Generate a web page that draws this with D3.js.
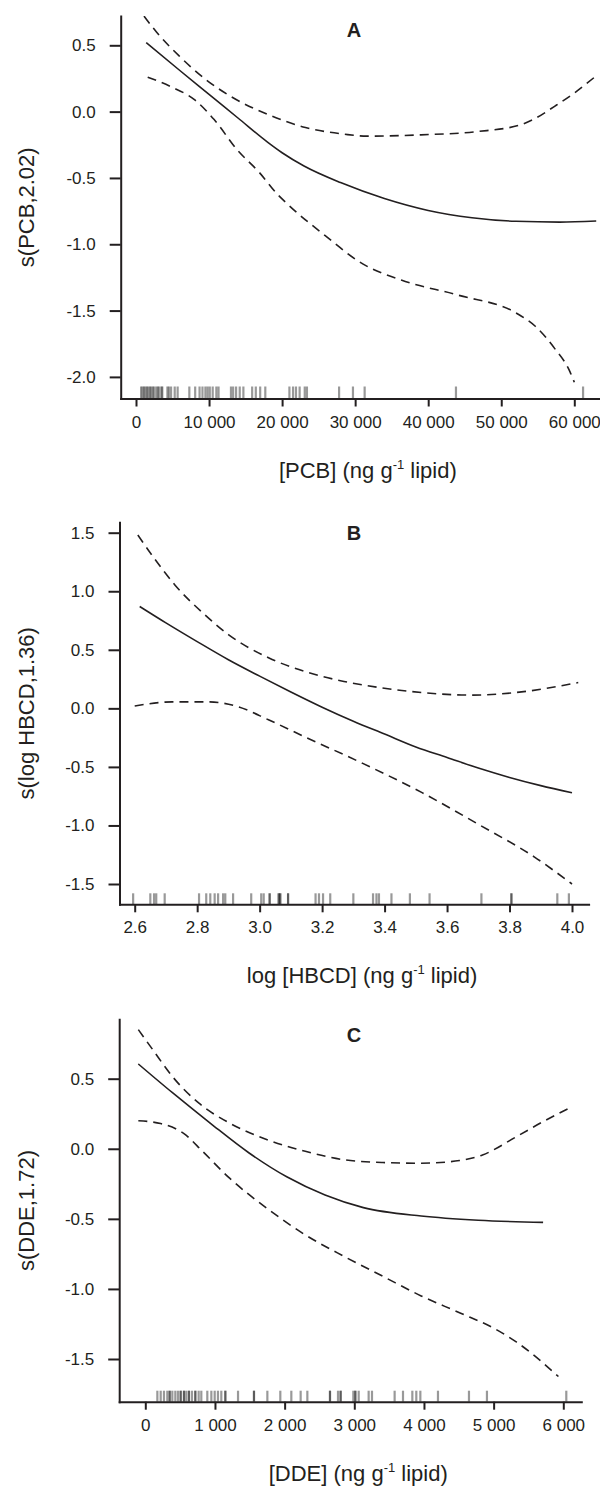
<!DOCTYPE html>
<html>
<head>
<meta charset="utf-8">
<script src="https://cdn.jsdelivr.net/npm/d3@7"></script>
<style>
  body { margin: 0; background: #fff; }
  svg { display: block; font-family: "Liberation Sans", Arial, sans-serif; }
  .axis path, .axis line { stroke: #231f20; stroke-width: 2; }
  .axis text { font-size: 17px; fill: #231f20; }
</style>
</head>
<body>
<svg width="600" height="1488"></svg>
<script>
// ---- panel A : PCB ----
const pcbFitX = [1400, 6000, 10000, 14000, 18000, 20000, 23000, 28000, 34000, 40000, 46000, 52000, 58000, 63000]
const pcbFit = [0.52, 0.31, 0.13, -0.05, -0.23, -0.31, -0.41, -0.535, -0.655, -0.745, -0.80, -0.827, -0.833, -0.825]
const pcbUpX = [1100, 2800, 5900, 9600, 12800, 18000, 23200, 28500, 31600, 39000, 46800, 52600, 54700, 57300, 60000, 63000]
const pcbUp = [0.72, 0.60, 0.42, 0.24, 0.12, -0.02, -0.12, -0.17, -0.185, -0.175, -0.15, -0.10, -0.05, 0.04, 0.14, 0.27]
const pcbLoX = [1600, 4900, 8000, 10700, 13800, 16900, 19300, 20600, 25900, 31100, 36300, 44200, 52100, 54700, 57300, 59400, 60000]
const pcbLo = [0.26, 0.185, 0.09, -0.06, -0.285, -0.46, -0.62, -0.69, -0.935, -1.15, -1.27, -1.385, -1.52, -1.62, -1.785, -1.96, -2.04]
const pcbRug = [700, 900, 1100, 1300, 1500, 1700, 1900, 2100, 2300, 2500, 2800, 3000, 3200, 3500, 3600,
  4300, 4500, 4800, 5300, 5700, 7300, 8100, 8700, 9100, 9500, 9800, 10100, 10500, 11000, 11300,
  13000, 13300, 13700, 14200, 14700, 15900, 16400, 17000, 17700, 21000, 21500, 21900, 22400, 23100,
  23400, 27800, 29700, 31300, 43800, 61200]
const pcbXTicks = [0, 10000, 20000, 30000, 40000, 50000, 60000]
const pcbYTicks = [-2.0, -1.5, -1.0, -0.5, 0.0, 0.5]

// ---- panel B : HBCD ----
const hbcdFitX = [2.616, 2.7, 2.8, 2.9, 3.0, 3.1, 3.2, 3.3, 3.4, 3.5, 3.6, 3.7, 3.8, 3.9, 4.0]
const hbcdFit = [0.87, 0.73, 0.57, 0.415, 0.275, 0.14, 0.01, -0.11, -0.22, -0.33, -0.42, -0.51, -0.59, -0.66, -0.72]
const hbcdUpX = [2.61, 2.66, 2.73, 2.82, 2.90, 3.03, 3.15, 3.27, 3.39, 3.52, 3.68, 3.82, 4.02]
const hbcdUp = [1.48, 1.29, 1.05, 0.81, 0.63, 0.43, 0.31, 0.23, 0.175, 0.135, 0.113, 0.135, 0.22]
const hbcdLoX = [2.6, 2.72, 2.84, 2.93, 3.03, 3.15, 3.33, 3.52, 3.70, 3.88, 4.0]
const hbcdLo = [0.02, 0.055, 0.055, 0.015, -0.10, -0.25, -0.47, -0.72, -0.99, -1.27, -1.50]
const hbcdRug = [2.595, 2.650, 2.662, 2.669, 2.696, 2.806, 2.829, 2.842, 2.856, 2.867, 2.883, 2.890,
  2.915, 2.973, 3.005, 3.013, 3.032, 3.032, 3.061, 3.061, 3.066, 3.066, 3.091, 3.091, 3.179, 3.190,
  3.203, 3.226, 3.300, 3.363, 3.374, 3.382, 3.422, 3.481, 3.544, 3.710, 3.806, 3.806, 3.953, 3.990]
const hbcdXTicks = [2.6, 2.8, 3.0, 3.2, 3.4, 3.6, 3.8, 4.0]
const hbcdYTicks = [-1.5, -1.0, -0.5, 0.0, 0.5, 1.0, 1.5]

// ---- panel C : DDE ----
const ddeFitX = [-100, 390, 940, 1490, 2030, 2580, 3130, 3960, 4780, 5710]
const ddeFit = [0.605, 0.40, 0.18, -0.03, -0.20, -0.33, -0.42, -0.48, -0.51, -0.525]
const ddeUpX = [-100, 110, 390, 770, 1210, 1760, 2310, 2860, 3410, 3960, 4510, 4840, 5330, 5710, 6100]
const ddeUp = [0.85, 0.705, 0.515, 0.325, 0.183, 0.063, -0.02, -0.079, -0.098, -0.103, -0.084, -0.044, 0.087, 0.194, 0.294]
const ddeLoX = [-100, 220, 550, 825, 1210, 1760, 2250, 2860, 3410, 3960, 4510, 5000, 5330, 5930]
const ddeLo = [0.20, 0.18, 0.11, -0.02, -0.21, -0.43, -0.60, -0.77, -0.91, -1.05, -1.17, -1.28, -1.38, -1.625]
const ddeRug = [173, 221, 268, 316, 350, 350, 388, 431, 469, 508, 508, 555, 555, 589, 627, 627, 670,
  718, 718, 766, 804, 890, 948, 996, 1043, 1091, 1149, 1149, 1331, 1560, 1560, 1752, 1938, 2096,
  2230, 2326, 2651, 2651, 2766, 2804, 2804, 2986, 3015, 3015, 3063, 3206, 3254, 3579, 3699, 3833,
  3890, 3948, 4201, 4646, 4904, 6043]
const ddeXTicks = [0, 1000, 2000, 3000, 4000, 5000, 6000]
const ddeYTicks = [-1.5, -1.0, -0.5, 0.0, 0.5]

const locale = d3.formatLocale({ decimal: '.', thousands: ' ', grouping: [3], currency: ['', ''], minus: '-' })
const fmtInt = locale.format(',d')
const fmt1 = locale.format('.1f')

const panels = [
  {
    label: 'A', yTitle: 's(PCB,2.02)', xTitle: ['[PCB] (ng g', '-1', ' lipid)'],
    left: 120.7, right: 599, top: 16, bottom: 398.5,
    xRef: [0, 60000], xRefPx: [136, 574.3], yRef: [-2, 0.5], yRefPx: [376.9, 45.3],
    xTicks: pcbXTicks, yTicks: pcbYTicks, xFmt: fmtInt, rugH: 12, letterY: 37,
    fit: [pcbFitX, pcbFit], up: [pcbUpX, pcbUp], lo: [pcbLoX, pcbLo], rug: pcbRug
  },
  {
    label: 'B', yTitle: 's(log HBCD,1.36)', xTitle: ['log [HBCD] (ng g', '-1', ' lipid)'],
    left: 119.5, right: 588.6, top: 522.3, bottom: 904.3,
    xRef: [2.6, 4.0], xRefPx: [134.7, 572], yRef: [-1.5, 1.5], yRefPx: [884, 532.7],
    xTicks: hbcdXTicks, yTicks: hbcdYTicks, xFmt: fmt1, rugH: 11, letterY: 540,
    fit: [hbcdFitX, hbcdFit], up: [hbcdUpX, hbcdUp], lo: [hbcdLoX, hbcdLo], rug: hbcdRug
  },
  {
    label: 'C', yTitle: 's(DDE,1.72)', xTitle: ['[DDE] (ng g', '-1', ' lipid)'],
    left: 119.2, right: 581.3, top: 1019.3, bottom: 1401.7,
    xRef: [0, 6000], xRefPx: [145.3, 563.3], yRef: [-1.5, 0.5], yRefPx: [1359, 1078.7],
    xTicks: ddeXTicks, yTicks: ddeYTicks, xFmt: fmtInt, rugH: 11, letterY: 1042,
    fit: [ddeFitX, ddeFit], up: [ddeUpX, ddeUp], lo: [ddeLoX, ddeLo], rug: ddeRug
  }
]

const svg = d3.select('svg')

panels.forEach((p, i) => {
  // scales pinned to the tick positions, then stretched to the full axis length
  const x = d3.scaleLinear().domain(p.xRef).range(p.xRefPx)
  x.domain([x.invert(p.left), x.invert(p.right)]).range([p.left, p.right])
  const y = d3.scaleLinear().domain(p.yRef).range(p.yRefPx)
  y.domain([y.invert(p.bottom), y.invert(p.top)]).range([p.bottom, p.top])

  const g = svg.append('g')

  g.append('clipPath').attr('id', 'clip' + i)
    .append('rect')
    .attr('x', p.left).attr('y', p.top)
    .attr('width', p.right - p.left).attr('height', p.bottom - p.top)

  // rug
  g.append('g').selectAll('line')
    .data(p.rug)
    .join('line')
    .attr('x1', d => x(d)).attr('x2', d => x(d))
    .attr('y1', p.bottom - p.rugH).attr('y2', p.bottom)
    .attr('stroke', '#000')
    .attr('stroke-opacity', 0.4)
    .attr('stroke-width', 2.2)

  const line = d3.line()
    .x(d => x(d[0]))
    .y(d => y(d[1]))
    .curve(d3.curveMonotoneX)

  const curves = [
    { xs: p.fit[0], ys: p.fit[1], dash: null },
    { xs: p.up[0], ys: p.up[1], dash: '9,6' },
    { xs: p.lo[0], ys: p.lo[1], dash: '9,6' }
  ]
  g.append('g').attr('clip-path', `url(#clip${i})`)
    .selectAll('path')
    .data(curves)
    .join('path')
    .attr('d', c => line(d3.zip(c.xs, c.ys)))
    .attr('fill', 'none')
    .attr('stroke', '#231f20')
    .attr('stroke-width', 1.6)
    .attr('stroke-dasharray', c => c.dash)

  // axes
  g.append('g')
    .attr('class', 'axis')
    .attr('transform', `translate(0,${p.bottom})`)
    .call(d3.axisBottom(x).tickValues(p.xTicks).tickFormat(p.xFmt)
      .tickSizeInner(8).tickSizeOuter(0).tickPadding(9))
  g.append('g')
    .attr('class', 'axis')
    .attr('transform', `translate(${p.left},0)`)
    .call(d3.axisLeft(y).tickValues(p.yTicks).tickFormat(fmt1)
      .tickSizeInner(11).tickSizeOuter(0).tickPadding(14))
  g.selectAll('.axis .domain').attr('stroke-linecap', 'square')

  // panel letter
  g.append('text')
    .attr('x', 354).attr('y', p.letterY)
    .attr('text-anchor', 'middle')
    .attr('font-size', 20).attr('font-weight', 'bold')
    .attr('fill', '#231f20')
    .text(p.label)

  // x title with superscript
  const xt = g.append('text')
    .attr('x', (p.left + p.right) / 2 + 8).attr('y', p.bottom + 79)
    .attr('text-anchor', 'middle')
    .attr('font-size', 22).attr('fill', '#231f20')
  xt.append('tspan').text(p.xTitle[0])
  xt.append('tspan').attr('font-size', 13).attr('dy', -9).text(p.xTitle[1])
  xt.append('tspan').attr('dy', 9).text(p.xTitle[2])

  // y title
  g.append('text')
    .attr('transform', `translate(26,${(p.top + p.bottom) / 2}) rotate(-90)`)
    .attr('text-anchor', 'middle')
    .attr('dy', '0.35em')
    .attr('font-size', 22).attr('fill', '#231f20')
    .text(p.yTitle)
})
</script>
</body>
</html>
